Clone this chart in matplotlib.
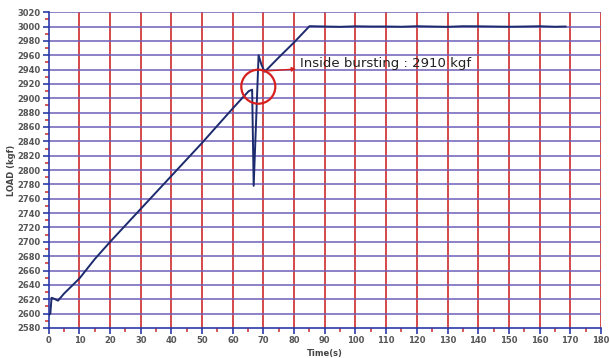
import matplotlib.pyplot as plt
from matplotlib.patches import Circle
from matplotlib.ticker import MultipleLocator

# load curve
time_s = [0, 0.5, 0.9, 1.6, 3.0, 5, 10, 15, 20, 25, 30, 35, 40, 45, 50, 55, 60,
          63, 65.2, 66.3, 66.8, 68.4, 69.4, 70.4, 75, 80, 85,
          90, 95, 100, 105, 110, 115, 120, 125, 130, 135, 140, 145, 150, 155, 160, 165, 168.5]
load_kgf = [2598, 2600, 2622, 2621, 2618, 2628, 2649, 2676, 2700, 2723, 2746, 2769, 2792,
            2815, 2838, 2862, 2886, 2900, 2910, 2912, 2778, 2960, 2946, 2937, 2957, 2978, 3000.5,
            3000, 2999.6, 3000.3, 3000, 3000, 2999.7, 3000.4, 3000, 2999.6, 3000.4, 3000.3, 3000, 2999.7, 3000, 3000.4, 2999.7, 3000]

x_major = 10
y_major = 20

fig = plt.figure(figsize=(6.1, 3.58), dpi=100)
ax = fig.add_axes([0.080, 0.084, 0.905, 0.882])

ax.set_xlim(0, 180)
ax.set_ylim(2580, 3020)
ax.xaxis.set_major_locator(MultipleLocator(x_major))
ax.xaxis.set_minor_locator(MultipleLocator(5))
ax.yaxis.set_major_locator(MultipleLocator(y_major))
ax.yaxis.set_minor_locator(MultipleLocator(10))

# grid: red verticals, purple horizontals
for xv in range(10, 181, x_major):
    ax.axvline(xv, color='#d23a3a', lw=1.3, zorder=1)
for yv in range(2600, 3021, y_major):
    ax.axhline(yv, color='#7060b8', lw=1.3, alpha=0.85, zorder=1)

ax.plot(time_s, load_kgf, color='#1c2a6e', lw=1.4, zorder=3)

# burst marker
ax.add_patch(Circle((258.3, 358 - 86.7), 17, transform=None, fill=False,
                    ec='#d62020', lw=1.6, zorder=4))
ax.annotate('Inside bursting : 2910 kgf', xy=(70.6, 2938), xytext=(82.0, 2949),
            fontsize=9.5, color='#222222', va='center',
            arrowprops=dict(arrowstyle='<|-', color='#d62020', lw=1.0,
                            mutation_scale=6, shrinkA=1, shrinkB=0), zorder=5)

for s in ['left', 'bottom']:
    ax.spines[s].set_color('#2a3aa8')
    ax.spines[s].set_linewidth(1.2)
for s in ['top', 'right']:
    ax.spines[s].set_visible(False)

ax.tick_params(which='major', length=4, width=1.2, color='#2a3aa8',
               labelsize=6, labelcolor='#555555', pad=2)
ax.tick_params(which='minor', length=3, width=1.2, color='#d23a3a')
for lab in ax.get_xticklabels() + ax.get_yticklabels():
    lab.set_fontweight('bold')

ax.set_xlabel('Time(s)', fontsize=6, fontweight='bold', color='#444444', labelpad=3)
ax.set_ylabel('LOAD (kgf)', fontsize=6, fontweight='bold', color='#444444', labelpad=0.5)

fig.savefig('out.png', dpi=100)
